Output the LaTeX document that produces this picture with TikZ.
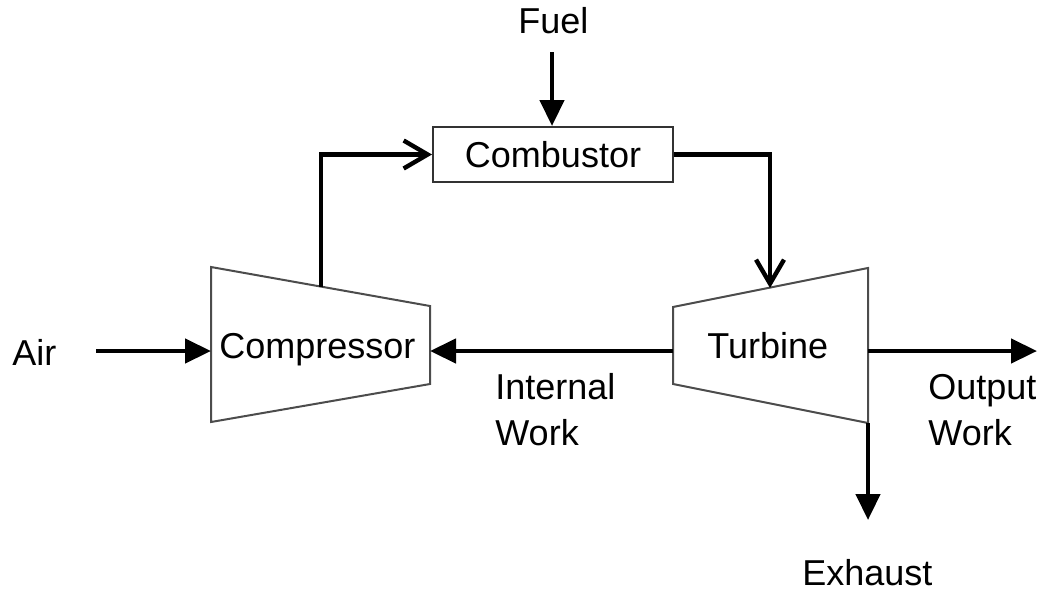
\documentclass[tikz,border=0pt]{standalone}
\usepackage{fontspec}
\setmainfont{Liberation Sans}
\usetikzlibrary{arrows.meta}
\begin{document}
\begin{tikzpicture}[x=0.5pt,y=-0.5pt,
  outline/.style={draw=black!70, line width=1pt, fill=white},
  flow/.style={line width=2.2pt, -{Triangle[length=13pt,width=12pt]}},
  openflow/.style={line width=2.2pt, -{Straight Barb[length=12pt,width=14pt,line width=2.2pt]}},
  lbl/.style={inner sep=0pt, anchor=base west, font=\fontsize{18}{22}\selectfont}]
\useasboundingbox (0,0) rectangle (1047,590);
% compressor corners
\coordinate (c1) at (211,267);
\coordinate (c2) at (430,306);
\coordinate (c3) at (430,384);
\coordinate (c4) at (211,422);
% turbine corners
\coordinate (t1) at (673,307);
\coordinate (t2) at (868,268);
\coordinate (t3) at (868,423);
\coordinate (t4) at (673,384);
\draw[outline] (c1) -- (c2) -- (c3) -- (c4) -- cycle;
\draw[outline] (t1) -- (t2) -- (t3) -- (t4) -- cycle;
% connection points
\coordinate (cstem) at (321,287);
\coordinate (cright) at (430,351);
\coordinate (cleft) at (211,351);
\coordinate (tleft) at (673,351);
\coordinate (tright) at (868,351);
\coordinate (ttop) at (770,288);
\coordinate (airstart) at (96,351);
\coordinate (outend) at (1037,351);
\coordinate (exend) at (868,520);
\coordinate (fuelstart) at (552,52);
% combustor
\node[draw=black!80, line width=1pt, minimum width=120pt, minimum height=27.5pt, inner sep=0pt,
      font=\fontsize{18}{22}\selectfont] (comb) at (553,154.5) {Combustor};
% labels
\node[lbl] (tcomp) at (219,358) {Compressor};
\node[lbl] (tturb) at (707,358) {Turbine};
\node[lbl] (tair) at (12,365) {Air};
\node[lbl] (tfuel) at (518,33) {Fuel};
\node[lbl] (tint1) at (495,399) {Internal};
\node[lbl] (tint2) at (495,445) {Work};
\node[lbl] (tout1) at (928,399) {Output};
\node[lbl] (tout2) at (928,445) {Work};
\node[lbl] (texh) at (802,585) {Exhaust};
% connectors
\draw[flow] (airstart) -- (cleft);
\draw[flow] (tleft) -- (cright);
\draw[flow] (tright) -- (outend);
\draw[flow] (t3) -- (exend);
\draw[flow] (fuelstart) -- (comb.north -| fuelstart);
\draw[openflow] (cstem) |- (comb.west);
\draw[openflow] (comb.east) -| (ttop);
\end{tikzpicture}
\end{document}
